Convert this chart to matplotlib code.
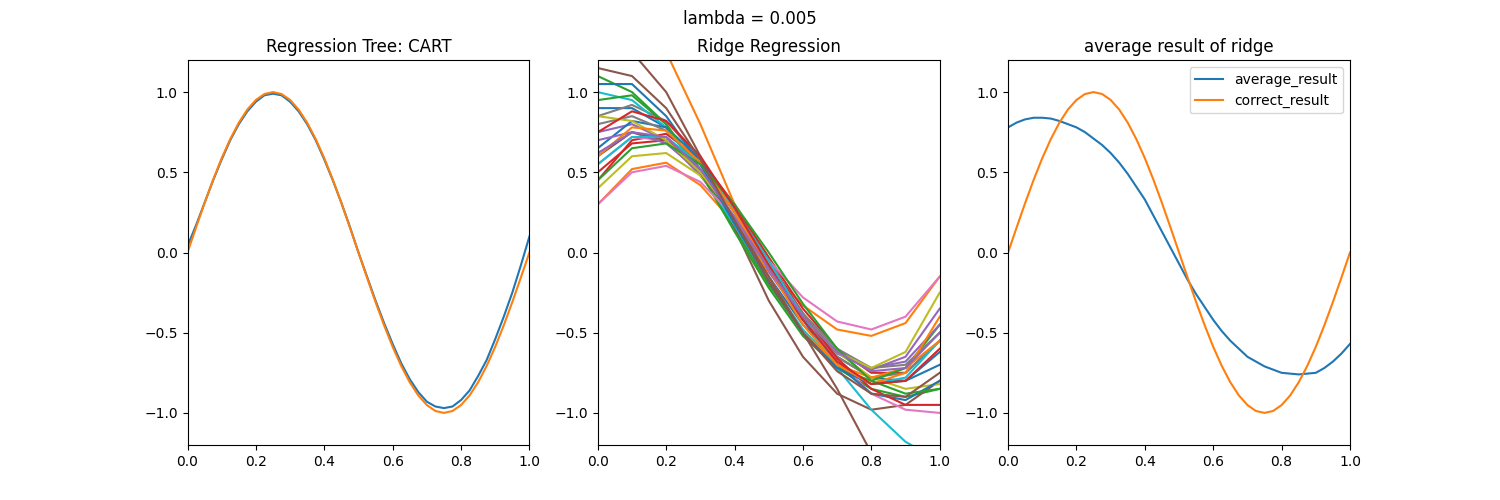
import matplotlib
matplotlib.use("Agg")
import matplotlib.pyplot as plt

x41 = [i * 0.025 for i in range(41)]
half = [0, .156, .309, .454, .588, .707, .809, .891, .951, .988, 1, .988, .951, .891, .809, .707, .588, .454, .309, .156]
correct = half + [0] + [-v for v in half[1:]] + [0]
cart = [0.04, .17, .31, .45, .58, .70, .80, .88, .94, .98, .99, .98, .94, .88, .80, .70, .58, .45, .31, .16,
        0, -.15, -.30, -.44, -.57, -.69, -.79, -.87, -.93, -.96, -.97, -.96, -.92, -.86, -.77, -.67, -.54, -.40, -.25, -.08, 0.1]
average = [.78, .81, .83, .84, .84, .835, .82, .80, .78, .75, .71, .67, .62, .56, .49, .41, .33, .23, .13, .03,
           -.07, -.17, -.26, -.34, -.42, -.49, -.55, -.60, -.65, -.68, -.71, -.73, -.75, -.755, -.76, -.755, -.75, -.72, -.68, -.63, -.57]

x11 = [i * 0.1 for i in range(11)]
ridge_curves = [
    [0.9,0.9,0.78,0.52,0.18,-0.15,-0.45,-0.65,-0.78,-0.8,-0.7],
    [0.3,0.52,0.56,0.42,0.18,-0.1,-0.33,-0.48,-0.52,-0.44,-0.15],
    [1.1,1.0,0.8,0.5,0.15,-0.2,-0.5,-0.72,-0.85,-0.9,-0.85],
    [0.45,0.7,0.74,0.58,0.3,-0.03,-0.35,-0.6,-0.75,-0.75,-0.55],
    [0.75,0.8,0.7,0.48,0.2,-0.12,-0.42,-0.63,-0.73,-0.65,-0.35],
    [1.2,1.25,1.0,0.6,0.15,-0.3,-0.65,-0.88,-0.98,-0.95,-0.8],
    [0.55,0.72,0.7,0.52,0.25,-0.08,-0.4,-0.68,-0.88,-0.98,-1.0],
    [0.85,0.92,0.82,0.58,0.25,-0.1,-0.42,-0.65,-0.78,-0.75,-0.55],
    [0.4,0.6,0.62,0.48,0.22,-0.08,-0.38,-0.62,-0.78,-0.85,-0.82],
    [1.0,0.95,0.78,0.5,0.17,-0.17,-0.48,-0.7,-0.82,-0.78,-0.55],
    [0.65,0.82,0.78,0.58,0.27,-0.08,-0.42,-0.7,-0.88,-0.92,-0.8],
    [2.1,1.7,1.25,0.8,0.3,-0.15,-0.5,-0.7,-0.78,-0.72,-0.55],
    [0.95,0.98,0.8,0.5,0.13,-0.22,-0.52,-0.72,-0.8,-0.72,-0.45],
    [0.5,0.68,0.7,0.55,0.28,-0.05,-0.38,-0.66,-0.85,-0.95,-0.95],
    [0.7,0.75,0.68,0.5,0.22,-0.1,-0.4,-0.62,-0.72,-0.68,-0.45],
    [0.6,0.75,0.7,0.5,0.2,-0.15,-0.5,-0.85,-1.25,-1.7,-2.2],
    [0.3,0.5,0.54,0.44,0.22,-0.05,-0.28,-0.43,-0.48,-0.4,-0.15],
    [0.8,0.85,0.76,0.55,0.25,-0.08,-0.38,-0.6,-0.72,-0.7,-0.5],
    [0.85,0.82,0.7,0.5,0.22,-0.1,-0.4,-0.62,-0.72,-0.62,-0.25],
    [0.55,0.72,0.72,0.55,0.27,-0.05,-0.4,-0.72,-0.98,-1.18,-1.3],
    [1.05,1.05,0.85,0.55,0.18,-0.18,-0.5,-0.72,-0.82,-0.8,-0.62],
    [0.6,0.78,0.76,0.56,0.25,-0.1,-0.45,-0.7,-0.82,-0.75,-0.4],
    [0.45,0.65,0.68,0.55,0.3,0.0,-0.32,-0.6,-0.8,-0.88,-0.85],
    [0.75,0.88,0.82,0.6,0.28,-0.08,-0.42,-0.68,-0.82,-0.8,-0.6],
    [0.62,0.75,0.72,0.52,0.22,-0.1,-0.4,-0.62,-0.74,-0.72,-0.5],
    [1.15,1.1,0.9,0.58,0.2,-0.18,-0.5,-0.74,-0.88,-0.9,-0.75],
]

fig, axes = plt.subplots(1, 3, figsize=(15, 5), dpi=100)
fig.suptitle("lambda = 0.005")

ax = axes[0]
ax.plot(x41, cart)
ax.plot(x41, correct)
ax.set_title("Regression Tree: CART")

ax = axes[1]
for c in ridge_curves:
    ax.plot(x11, c)
ax.set_title("Ridge Regression")

ax = axes[2]
ax.plot(x41, average, label="average_result")
ax.plot(x41, correct, label="correct_result")
ax.set_title("average result of ridge")
ax.legend(loc="upper right")

for ax in axes:
    ax.set_xlim(0, 1)
    ax.set_ylim(-1.2, 1.2)

fig.savefig("out.png")
